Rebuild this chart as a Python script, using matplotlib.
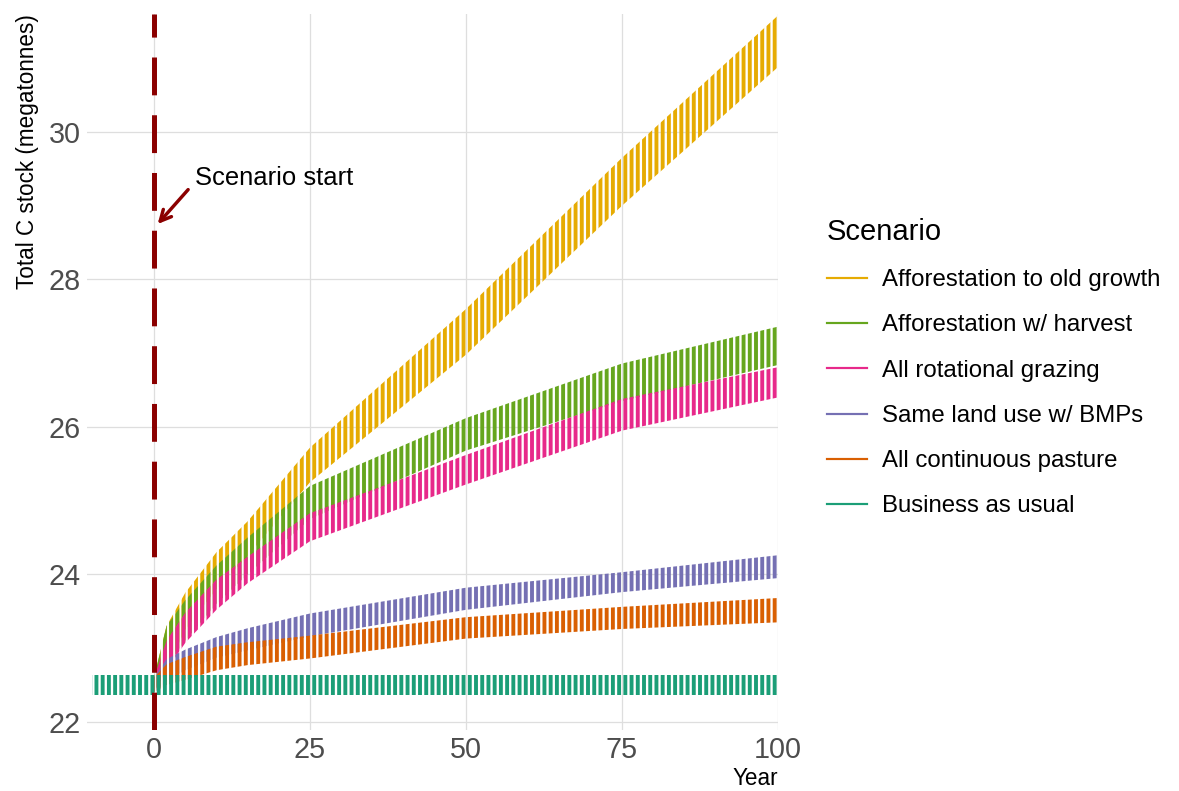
import matplotlib
matplotlib.use("Agg")
import matplotlib.pyplot as plt
from matplotlib.lines import Line2D

plt.rcParams['font.family'] = ['Liberation Sans', 'DejaVu Sans']
plt.rcParams['hatch.linewidth'] = 2.5

# Envelopes (seasonal low / high) at anchor years
years = [0, 2, 5, 10, 15, 25, 50, 75, 100]
old_growth_low = [22.40, 22.70, 23.25, 23.80, 24.25, 25.25, 26.98, 29.00, 30.88]
old_growth_high = [22.60, 23.30, 23.75, 24.30, 24.72, 25.72, 27.60, 29.65, 31.58]
harvest_low = [22.40, 22.75, 23.10, 23.60, 24.00, 24.75, 25.68, 26.35, 26.84]
harvest_high = [22.60, 23.30, 23.65, 24.12, 24.50, 25.20, 26.12, 26.86, 27.36]
rotational_low = [22.40, 22.70, 23.07, 23.52, 23.88, 24.45, 25.22, 25.95, 26.40]
rotational_high = [22.60, 23.10, 23.48, 23.93, 24.24, 24.83, 25.62, 26.38, 26.81]
bmp_low = [22.40, 22.55, 22.70, 22.87, 22.97, 23.16, 23.52, 23.76, 23.95]
bmp_high = [22.60, 22.85, 22.98, 23.15, 23.27, 23.47, 23.82, 24.03, 24.26]
continuous_low = [22.40, 22.50, 22.57, 22.70, 22.77, 22.86, 23.13, 23.26, 23.35]
continuous_high = [22.60, 22.78, 22.88, 23.02, 23.08, 23.17, 23.42, 23.56, 23.68]
bau_years = [-10, 100]
bau_low = [22.37, 22.37]
bau_high = [22.63, 22.63]

labels = ['Afforestation to old growth', 'Afforestation w/ harvest',
          'All rotational grazing', 'Same land use w/ BMPs',
          'All continuous pasture', 'Business as usual']
colors = ['#E6AB02', '#66A61E', '#E7298A', '#7570B3', '#D95F02', '#1B9E77']

series = [
    (years, old_growth_low, old_growth_high),
    (years, harvest_low, harvest_high),
    (years, rotational_low, rotational_high),
    (years, bmp_low, bmp_high),
    (years, continuous_low, continuous_high),
    (bau_years, bau_low, bau_high),
]

DPI = 112
fig = plt.figure(figsize=(1179 / DPI, 791 / DPI), dpi=DPI)
ax = fig.add_axes([87 / 1179, 61 / 791, (778 - 87) / 1179, (777 - 61) / 791])

# dense annual oscillation drawn as vertical hatching inside each envelope
for (x, lo, hi), c in zip(series, colors):
    ax.fill_between(x, lo, hi, facecolor='none', edgecolor=c,
                    hatch='|||', linewidth=0, zorder=2)

ax.axvline(0, color='#8B0000', lw=3.2, dashes=(7.6, 4.0), zorder=3)
ax.annotate('', xy=(0.25, 28.72), xytext=(5.8, 29.25),
            arrowprops=dict(arrowstyle='->,head_length=0.7,head_width=0.35',
                            color='#8B0000', lw=2.2), zorder=4)
ax.text(6.6, 29.38, 'Scenario start', fontsize=16.5, va='center', ha='left')

ax.set_xlim(-10.74, 100)
ax.set_ylim(21.89, 31.6)
ax.set_xticks([0, 25, 50, 75, 100])
ax.set_yticks([22, 24, 26, 28, 30])
ax.grid(True, color='#DEDEDE', lw=0.8)
ax.set_axisbelow(True)
for s in ax.spines.values():
    s.set_visible(False)
ax.tick_params(length=0, labelsize=18.5, labelcolor='#4D4D4D', pad=4)
ax.set_xlabel('Year', fontsize=14.5, loc='right', labelpad=1.5)
ax.set_ylabel('Total C stock (megatonnes)', fontsize=14.5, loc='top', labelpad=6)

handles = [Line2D([], [], color=c, lw=1.4) for c in colors]
leg = fig.legend(handles, labels, title='Scenario', loc='upper left',
                 bbox_to_anchor=(815 / 1179, (791 - 206) / 791),
                 frameon=False, fontsize=15.4, title_fontsize=18.7,
                 handlelength=1.65, handletextpad=0.65, labelspacing=0.97,
                 borderpad=0, alignment='left')

fig.savefig('out.png', dpi=DPI)
